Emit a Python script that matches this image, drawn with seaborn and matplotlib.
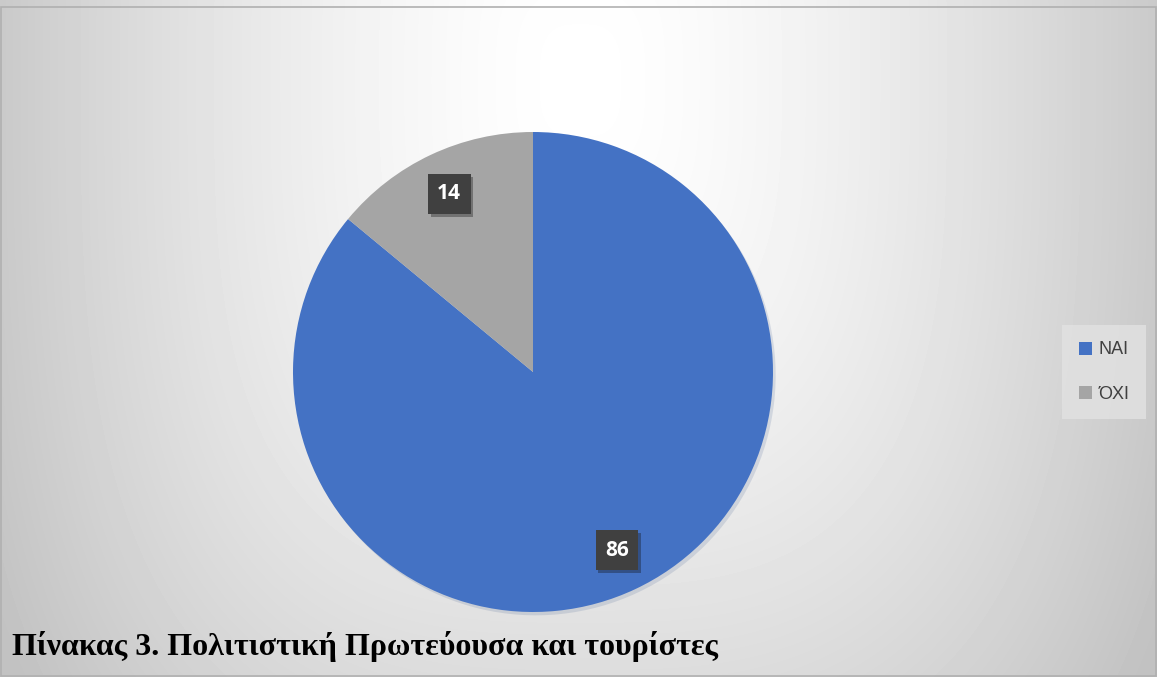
import numpy as np
import seaborn as sns
import matplotlib.pyplot as plt
import matplotlib.patheffects as pe
from matplotlib.patches import Rectangle

categories = ['ΝΑΙ', 'ΌΧΙ']
values = [86, 14]
colors = ['#4472C4', '#A5A5A5']
title = 'Πίνακας 3. Πολιτιστική Πρωτεύουσα και τουρίστες'

sns.set_style('white')
plt.rcParams['font.family'] = ['Liberation Sans', 'DejaVu Sans']

fig = plt.figure(figsize=(11.57, 6.77), dpi=100)

# soft grey-to-white background
bg = fig.add_axes([0, 0, 1, 1], zorder=0)
yy, xx = np.mgrid[0:677, 0:1157]
dx = np.abs(xx - 580) / 580.0
dy = np.abs(yy - 80) / 600.0 * 0.75
d = (dx ** 3 + dy ** 3) ** (1 / 3)
shade = np.clip(1.0 - 0.21 * d ** 1.5, 0.76, 1.0)
bg.imshow(shade, cmap='gray', vmin=0, vmax=1, aspect='auto', extent=[0, 1, 0, 1], origin='upper')
bg.add_patch(Rectangle((0.001, 0.001), 0.998, 0.989, fill=False, edgecolor='#b0b0b0', lw=1.2))
bg.set_xlim(0, 1)
bg.set_ylim(0, 1)
bg.axis('off')

ax = fig.add_axes([293 / 1157, 65 / 677, 480 / 1157, 480 / 677], zorder=1)
ax.patch.set_alpha(0)
wedges, texts, autotexts = ax.pie(values, colors=colors, startangle=90, counterclock=False,
                                  autopct='%.0f', pctdistance=0.82, radius=1,
                                  wedgeprops={'linewidth': 0},
                                  shadow={'ox': 0.008, 'oy': -0.01, 'shade': 0.3, 'alpha': 0.15})
for t in autotexts:
    t.set_color('white')
    t.set_fontweight('bold')
    t.set_fontsize(15)
    t.set_fontfamily(['Open Sans', 'DejaVu Sans'])
    t.set_bbox(dict(boxstyle='square,pad=0.45', facecolor='#404040', edgecolor='none'))
    t.get_bbox_patch().set_path_effects([pe.SimplePatchShadow(offset=(2, -2), alpha=0.35), pe.Normal()])
ax.set_xlim(-1, 1)
ax.set_ylim(-1, 1)
ax.set_aspect('equal')
ax.axis('off')

leg = fig.legend(wedges, categories, loc='center', bbox_to_anchor=(1104 / 1157, 1 - 372 / 677),
                 frameon=True, fancybox=False, fontsize=13, handlelength=0.75, handleheight=0.75,
                 handletextpad=0.35, labelspacing=1.5, borderpad=0.9, labelcolor='#404040')
leg.get_frame().set_facecolor('#e2e2e2')
leg.get_frame().set_edgecolor('none')

fig.text(12 / 1157, 1 - 655 / 677, title, fontsize=23, fontweight='bold',
         family=['Liberation Serif', 'DejaVu Serif'], color='#000000', ha='left', va='baseline')

fig.savefig('out.png', dpi=100)
